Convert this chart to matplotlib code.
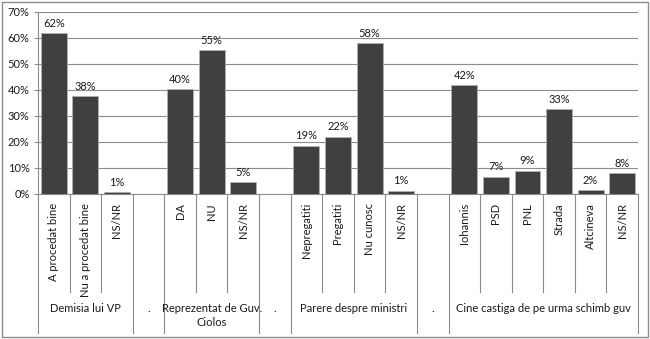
import matplotlib
matplotlib.use("Agg")
import matplotlib.pyplot as plt
from matplotlib.lines import Line2D
from matplotlib.patches import Rectangle
import numpy as np

plt.rcParams['font.family'] = ['Lato', 'DejaVu Sans']

# data
groups = ["Demisia lui VP", ".", "Reprezentat de Guv.\nCiolos", ".",
          "Parere despre ministri", ".", "Cine castiga de pe urma schimb guv"]
group_sizes = [3, 1, 3, 1, 4, 1, 6]
labels = ["A procedat bine", "Nu a procedat bine", "NS/NR", "",
          "DA", "NU", "NS/NR", "",
          "Nepregatiti", "Pregatiti", "Nu cunosc", "NS/NR", "",
          "Iohannis", "PSD", "PNL", "Strada", "Altcineva", "NS/NR"]
values = [61.8, 37.7, 0.6, None,
          40.2, 55.4, 4.7, None,
          18.6, 22.1, 58.2, 1.3, None,
          41.9, 6.7, 9.0, 32.7, 1.6, 8.2]
yticks = [0, 10, 20, 30, 40, 50, 60, 70]

W, H = 650, 339
fs = 8
fig = plt.figure(figsize=(W / 100, H / 100), dpi=100)
ax = fig.add_axes([38 / W, 1 - 194 / H, 600 / W, 182 / H])

x = np.arange(len(labels))
vals = [v if v is not None else 0 for v in values]
ax.bar(x, vals, width=0.82, color='#404040', edgecolor='#b0b0b0', linewidth=0.6, zorder=3)
for xi, v in zip(x, values):
    if v is None:
        continue
    ax.annotate(f"{v:.0f}%", (xi, v), xytext=(0, 3), textcoords='offset points',
                ha='center', va='bottom', fontsize=fs, color='#1a1a1a')

ax.set_xlim(-0.5, len(labels) - 0.5)
ax.set_ylim(0, 70)
ax.set_yticks(yticks)
ax.set_yticklabels([f"{t}%" for t in yticks], fontsize=fs, color='#1a1a1a')
ax.yaxis.grid(True, color='#8c8c8c', linewidth=0.8, zorder=0)
ax.set_xticks([])
ax.tick_params(axis='y', length=3, color='#8c8c8c', pad=3)
for s in ['top', 'right']:
    ax.spines[s].set_visible(False)
ax.spines['left'].set_color('#8c8c8c')
ax.spines['bottom'].set_color('#8c8c8c')

trans = ax.get_xaxis_transform()
inner_bottom = (194 - 292) / 182
outer_bottom = (194 - 333) / 182

# inner category labels
for xi, lab in zip(x, labels):
    if lab:
        ax.text(xi, -0.05, lab, rotation=90, ha='center', va='top', fontsize=fs,
                color='#1a1a1a', transform=trans)

# separators
bounds = np.cumsum([0] + group_sizes) - 0.5
for b in np.arange(-0.5, len(labels)):
    bottom = outer_bottom if np.any(np.isclose(bounds, b)) else inner_bottom
    ax.add_line(Line2D([b, b], [0, bottom], color='#8c8c8c', linewidth=0.8,
                       transform=trans, clip_on=False))

# group labels
for g, start, size in zip(groups, bounds[:-1], group_sizes):
    ax.text(start + size / 2, -0.6, g, ha='center', va='top', fontsize=fs,
            color='#1a1a1a', transform=trans, multialignment='center', linespacing=1.3)

fig.add_artist(Rectangle((2 / W, 2 / H), 646 / W, 335 / H, transform=fig.transFigure,
                         fill=False, edgecolor='#8c8c8c', linewidth=1))

fig.savefig("out.png", dpi=100, facecolor='white')
